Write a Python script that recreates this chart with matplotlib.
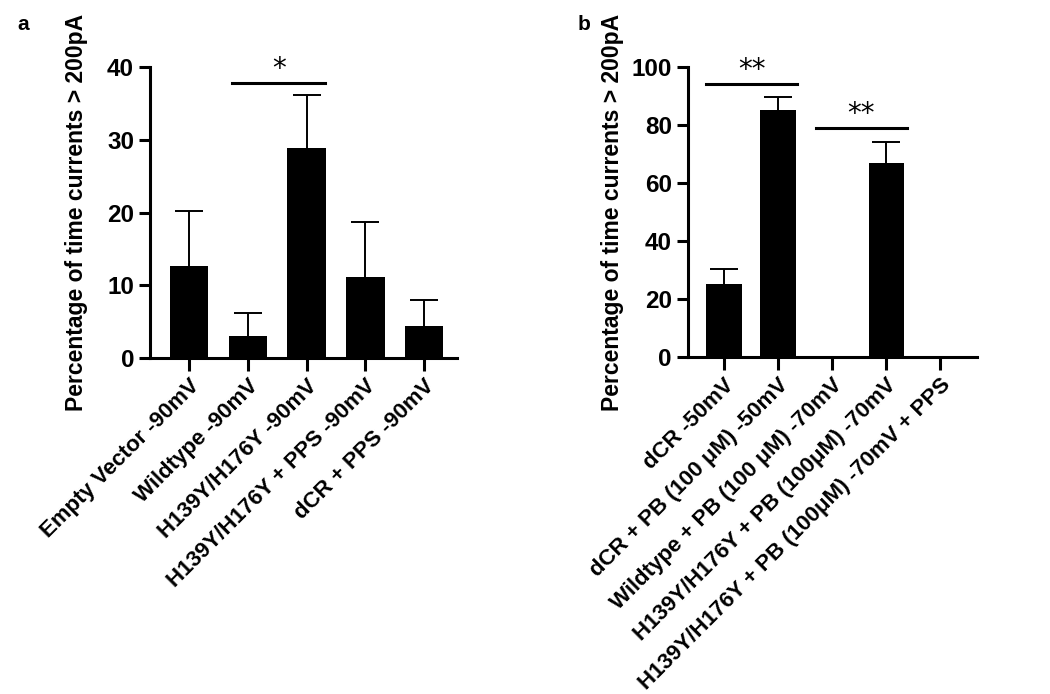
import matplotlib
matplotlib.use("Agg")
import matplotlib.pyplot as plt

plt.rcParams['font.family'] = ['Liberation Sans', 'DejaVu Sans']
plt.rcParams['font.weight'] = 'bold'
plt.rcParams['axes.labelweight'] = 'bold'

# panel a data
labels_a = ["Empty Vector -90mV", "Wildtype -90mV", "H139Y/H176Y -90mV",
            "H139Y/H176Y + PPS -90mV", "dCR + PPS -90mV"]
means_a = [12.7, 3.1, 28.9, 11.2, 4.4]
errs_a = [7.5, 3.1, 7.2, 7.5, 3.6]

# panel b data
labels_b = ["dCR -50mV", "dCR + PB (100 μM) -50mV", "Wildtype + PB (100 μM) -70mV",
            "H139Y/H176Y + PB (100μM) -70mV", "H139Y/H176Y + PB (100μM) -70mV + PPS"]
means_b = [25.2, 85.2, 0, 66.9, 0]
errs_b = [5.1, 4.5, 0, 7.3, 0]

ylabel = "Percentage of time currents > 200pA"


def draw_panel(ax, labels, means, errs, ymax, step, xlim, pad):
    x = range(len(labels))
    ax.bar(x, means, width=0.65, color='black', zorder=2)
    for xi, m, e in zip(x, means, errs):
        if e > 0:
            _, caps, _ = ax.errorbar(xi, m, yerr=[[0], [e]], color='black',
                                     elinewidth=1.4, capsize=10, capthick=1.4,
                                     zorder=1)
            caps[0].set_visible(False)  # only the upper cap
    ax.set_xlim(*xlim)
    ax.set_ylim(0, ymax)
    ax.set_yticks(range(0, ymax + 1, step))
    ax.set_xticks(list(x))
    ax.set_xticklabels(labels, rotation=45, ha='right', rotation_mode='anchor',
                       fontsize=16)
    ax.tick_params(axis='y', labelsize=17.5, width=2.2, length=8)
    ax.tick_params(axis='x', width=2.2, length=9)
    for s in ['top', 'right']:
        ax.spines[s].set_visible(False)
    for s in ['left', 'bottom']:
        ax.spines[s].set_linewidth(2.2)
    ax.set_ylabel(ylabel, fontsize=16.5, labelpad=pad)


def sig(ax, x0, x1, y, text):
    ax.plot([x0, x1], [y, y], color='black', lw=2.2, clip_on=False)
    ax.text((x0 + x1) / 2, y, text, ha='center', va='bottom', fontsize=20,
            fontweight='normal', family='DejaVu Sans')


fig = plt.figure(figsize=(10.5, 6.94), dpi=100)
ax_a = fig.add_axes([0.1429, 0.484, 0.292, 0.4195])
ax_b = fig.add_axes([0.655, 0.4856, 0.275, 0.418])

draw_panel(ax_a, labels_a, means_a, errs_a, 40, 10, (-0.66, 4.55), 14)
draw_panel(ax_b, labels_b, means_b, errs_b, 100, 20, (-0.67, 4.67), 5)

sig(ax_a, 0.73, 2.32, 37.8, "*")
sig(ax_b, -0.33, 1.35, 94.1, "**")
sig(ax_b, 1.7, 3.38, 79.0, "**")

fig.text(0.017, 0.965, "a", fontsize=15, fontweight='bold', va='center')
fig.text(0.550, 0.965, "b", fontsize=15, fontweight='bold', va='center')

fig.savefig("out.png", dpi=100)
